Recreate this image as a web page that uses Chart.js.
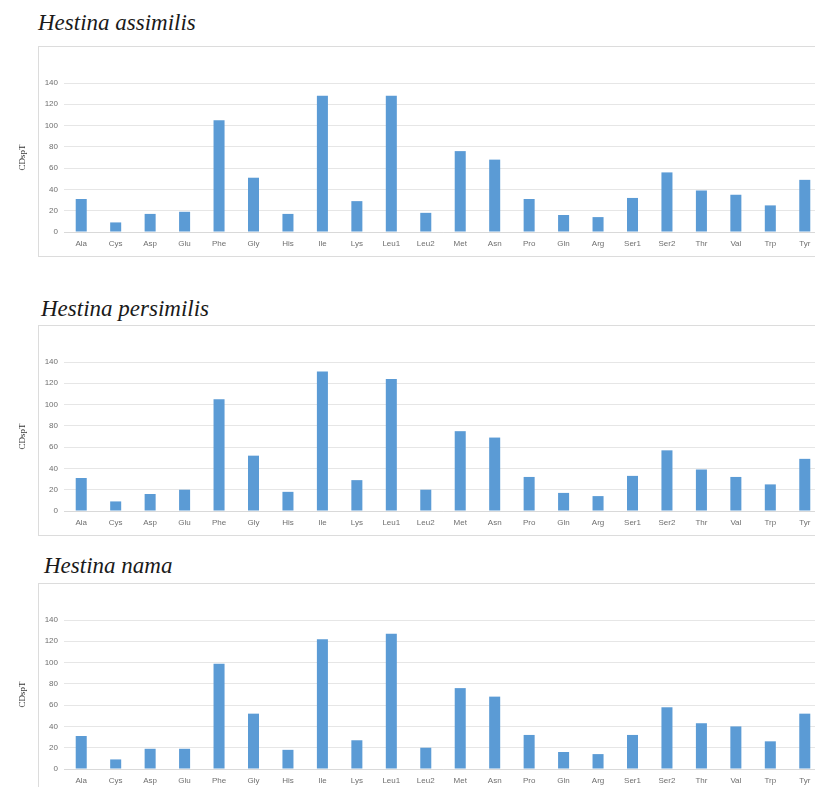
<!DOCTYPE html>
<html>
<head>
<meta charset="utf-8">
<script src="https://cdn.jsdelivr.net/npm/chart.js@4"></script>
<style>
    html, body { margin: 0; padding: 0; background: #fff; overflow: hidden; }
    body { width: 815px; height: 787px; position: relative; }
    .title {
        position: absolute;
        font-family: "Liberation Serif", "DejaVu Serif", serif;
        font-style: italic;
        font-size: 23px;
        line-height: 23px;
        color: #1a1a1a;
        white-space: nowrap;
    }
    .box {
        position: absolute;
        left: 38px;
        width: 800px;
        height: 209px;
        border: 1px solid #dcdcdc;
    }
    canvas { position: absolute; left: 0; }
</style>
</head>
<body>
    <div class="title" style="left:38px; top:11px;">Hestina assimilis</div>
    <div class="box" style="top:46px;"></div>
    <canvas id="chart1" width="830" height="210" style="top:46px;"></canvas>

    <div class="title" style="left:41px; top:297px;">Hestina persimilis</div>
    <div class="box" style="top:325px;"></div>
    <canvas id="chart2" width="830" height="210" style="top:325px;"></canvas>

    <div class="title" style="left:44px; top:554px;">Hestina nama</div>
    <div class="box" style="top:583px;"></div>
    <canvas id="chart3" width="830" height="210" style="top:583px;"></canvas>

<script>
// amino acid categories on the x axis
const aminoAcids = ['Ala', 'Cys', 'Asp', 'Glu', 'Phe', 'Gly', 'His', 'Ile', 'Lys', 'Leu1', 'Leu2',
    'Met', 'Asn', 'Pro', 'Gln', 'Arg', 'Ser1', 'Ser2', 'Thr', 'Val', 'Trp', 'Tyr'];

// CDspT per species
const assimilisValues = [31, 9, 17, 19, 105, 51, 17, 128, 29, 128, 18,
    76, 68, 31, 16, 14, 32, 56, 39, 35, 25, 49];
const persimilisValues = [31, 9, 16, 20, 105, 52, 18, 131, 29, 124, 20,
    75, 69, 32, 17, 14, 33, 57, 39, 32, 25, 49];
const namaValues = [31, 9, 19, 19, 99, 52, 18, 122, 27, 127, 20,
    76, 68, 32, 16, 14, 32, 58, 43, 40, 26, 52];

// y axis range
const yMin = 0;
const yMax = 140;
const yStep = 20;

function renderPanel(canvasId, values) {
    const ctx = document.getElementById(canvasId).getContext('2d');

    new Chart(ctx, {
        type: 'bar',
        data: {
            labels: aminoAcids,
            datasets: [{
                data: values,
                backgroundColor: '#5b9bd5',
                borderWidth: 0,
                barPercentage: 0.32,
                categoryPercentage: 1
            }]
        },
        options: {
            responsive: false,
            animation: false,
            layout: { padding: { left: 0, right: 8, top: 37, bottom: 0 } },
            plugins: {
                legend: { display: false },
                tooltip: { enabled: false }
            },
            scales: {
                x: {
                    grid: { display: false, drawTicks: false },
                    border: { color: '#d9d9d9' },
                    ticks: {
                        color: '#6f6f6f',
                        padding: 7,
                        maxRotation: 0,
                        autoSkip: false,
                        font: { family: 'Liberation Sans', size: 8 }
                    },
                    afterFit: (scale) => { scale.height = 24; }
                },
                y: {
                    min: yMin,
                    max: yMax,
                    grid: { color: '#e6e6e6', drawTicks: false },
                    border: { display: false },
                    ticks: {
                        stepSize: yStep,
                        color: '#6f6f6f',
                        padding: 6,
                        font: { family: 'Liberation Sans', size: 8 }
                    },
                    title: {
                        display: true,
                        text: 'CDspT',
                        color: '#333333',
                        padding: { top: 17, bottom: 0 },
                        font: { family: 'Liberation Serif', size: 9 }
                    },
                    afterFit: (scale) => { scale.width = 64; }
                }
            }
        }
    });
}

renderPanel('chart1', assimilisValues);
renderPanel('chart2', persimilisValues);
renderPanel('chart3', namaValues);
</script>
</body>
</html>
